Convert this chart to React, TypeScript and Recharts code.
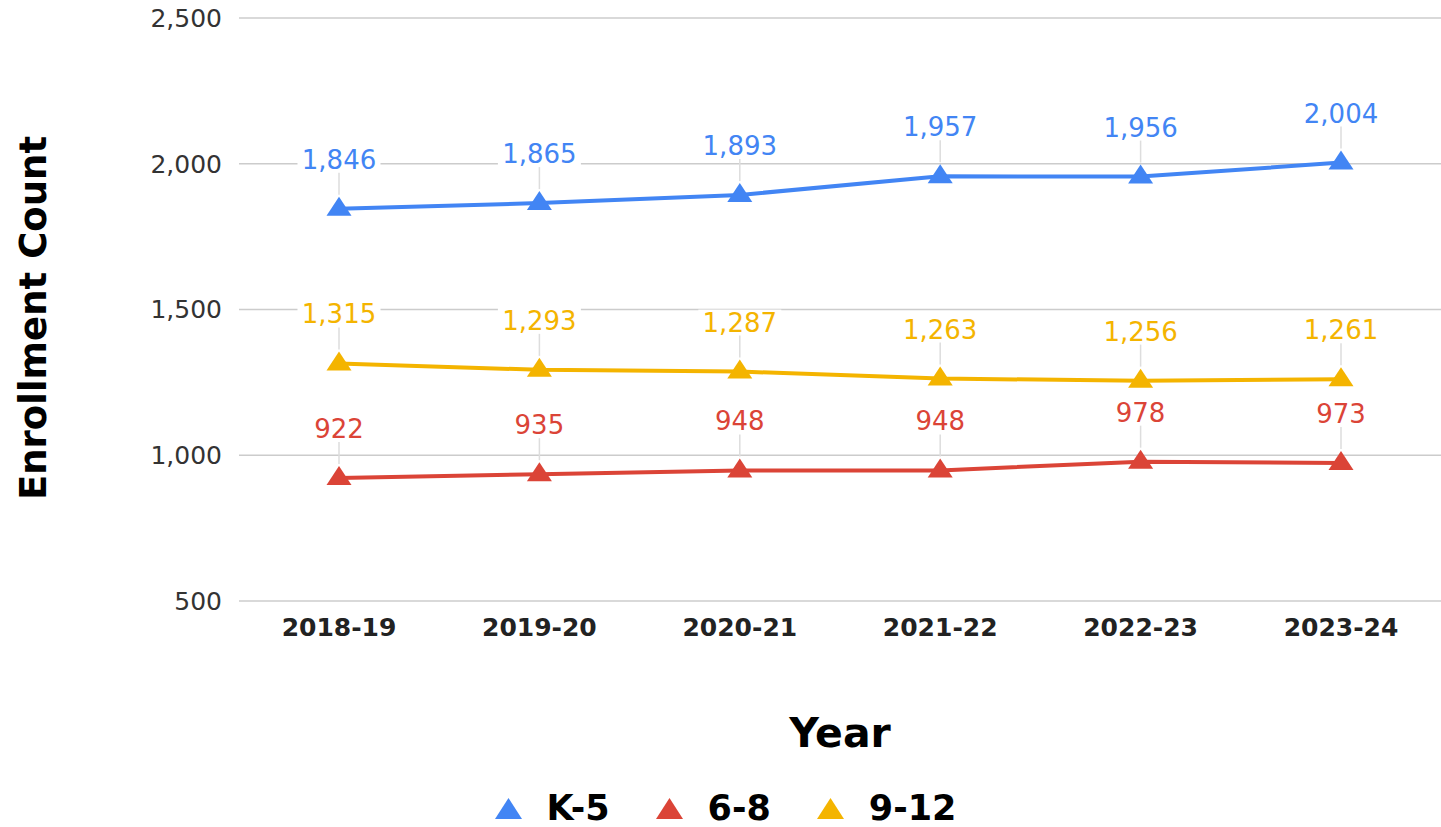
import React from "react";
import {
  LineChart,
  Line,
  XAxis,
  YAxis,
  CartesianGrid,
  Legend,
  LabelList,
} from "recharts";

const years = ["2018-19", "2019-20", "2020-21", "2021-22", "2022-23", "2023-24"];
const k5 = [1846, 1865, 1893, 1957, 1956, 2004];
const g68 = [922, 935, 948, 948, 978, 973];
const g912 = [1315, 1293, 1287, 1263, 1256, 1261];
const yTicks = [500, 1000, 1500, 2000, 2500];

const series = [
  { key: "k5", name: "K-5", color: "#4285F4" },
  { key: "g68", name: "6-8", color: "#DB4437" },
  { key: "g912", name: "9-12", color: "#F4B400" },
];

const data = years.map((y, i) => ({ year: y, k5: k5[i], g68: g68[i], g912: g912[i] }));

const FONT = "DejaVu Sans";
const fmt = (v: number) => v.toLocaleString("en-US");

const TriangleDot = (props: any) => {
  const { cx, cy, fill } = props;
  if (cx == null || cy == null) return null;
  return (
    <path
      d={`M${cx},${cy - 12} L${cx + 12.5},${cy + 7} L${cx - 12.5},${cy + 7} Z`}
      fill={fill}
    />
  );
};

const renderValueLabel = (color: string) => (p: any) => {
  const { x, y, value } = p;
  const txt = fmt(value);
  const w = txt.length * 15;
  return (
    <g>
      <line x1={x} x2={x} y1={y - 36} y2={y - 14} stroke="#dddddd" strokeWidth={1.5} />
      <rect x={x - w / 2 - 4} y={y - 62} width={w + 8} height={24} fill="#ffffff" />
      <text
        x={x}
        y={y - 40}
        textAnchor="middle"
        fill={color}
        fontSize={26}
        fontFamily={FONT}
      >
        {txt}
      </text>
    </g>
  );
};

const LegendContent = () => (
  <div
    style={{
      height: 60,
      boxSizing: "border-box",
      paddingTop: 22,
      paddingLeft: 10,
      display: "flex",
      justifyContent: "center",
      alignItems: "center",
      fontFamily: FONT,
    }}
  >
    {series.map((s, i) => (
      <div
        key={s.key}
        style={{ display: "flex", alignItems: "center", marginLeft: i === 0 ? 0 : 46 }}
      >
        <svg width={27} height={21} style={{ marginRight: 25 }}>
          <path d="M13.5,0 L27,21 L0,21 Z" fill={s.color} />
        </svg>
        <span style={{ fontSize: 35, fontWeight: "bold", color: "#000" }}>{s.name}</span>
      </div>
    ))}
  </div>
);

export default function App() {
  return (
    <div style={{ position: "absolute", left: 0, top: 0, background: "#fff" }}>
      <LineChart
        width={1441}
        height={827}
        data={data}
        margin={{ top: 18, right: 0, left: 0, bottom: 0 }}
      >
        <CartesianGrid vertical={false} stroke="#cccccc" strokeWidth={1.5} />
        <XAxis
          dataKey="year"
          height={166}
          padding={{ left: 100, right: 100 }}
          axisLine={false}
          tickLine={false}
          tickSize={0}
          tickMargin={17}
          tick={{ fontFamily: FONT, fontSize: 25, fontWeight: "bold", fill: "#222" }}
          label={(props: any) => {
            const vb = props.viewBox;
            return (
              <text
                x={vb.x + vb.width / 2}
                y={vb.y + 146}
                textAnchor="middle"
                fontFamily={FONT}
                fontSize={41}
                fontWeight="bold"
                fill="#000"
              >
                Year
              </text>
            );
          }}
        />
        <YAxis
          width={239}
          domain={[500, 2500]}
          ticks={yTicks}
          axisLine={false}
          tickLine={false}
          tickSize={0}
          tickMargin={17}
          tickFormatter={fmt}
          tick={{ fontFamily: FONT, fontSize: 25, fill: "#333" }}
          label={(props: any) => {
            const vb = props.viewBox;
            const cx = vb.x + 46;
            const cy = vb.y + vb.height / 2 + 8.5;
            return (
              <text
                x={cx}
                y={cy}
                transform={`rotate(-90, ${cx}, ${cy})`}
                textAnchor="middle"
                fontFamily={FONT}
                fontSize={37}
                fontWeight="bold"
                fill="#000"
              >
                Enrollment Count
              </text>
            );
          }}
        />
        <Legend verticalAlign="bottom" height={60} content={<LegendContent />} />
        {series.map((s) => (
          <Line
            key={s.key}
            dataKey={s.key}
            name={s.name}
            stroke={s.color}
            strokeWidth={4}
            dot={<TriangleDot fill={s.color} />}
            activeDot={false}
            isAnimationActive={false}
          >
            <LabelList dataKey={s.key} content={renderValueLabel(s.color)} />
          </Line>
        ))}
      </LineChart>
    </div>
  );
}
